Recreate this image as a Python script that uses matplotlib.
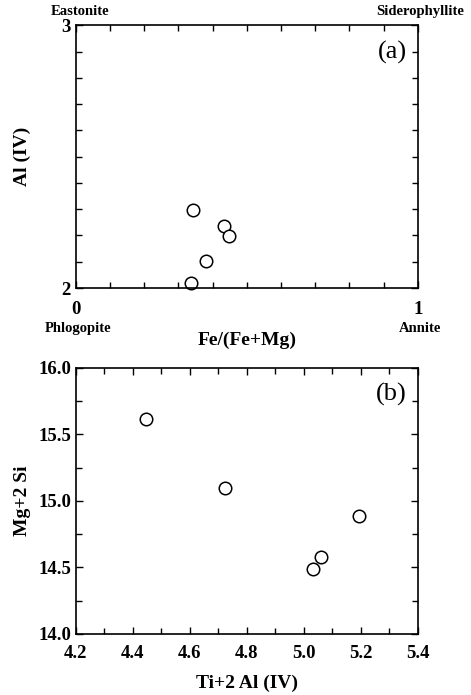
import matplotlib
matplotlib.use("Agg")
import matplotlib.pyplot as plt
from matplotlib.ticker import MultipleLocator

plt.rcParams['font.family'] = ['Liberation Serif', 'DejaVu Serif']

# panel (a)
fe_ratio = [0.344, 0.432, 0.449, 0.382, 0.337]
al_iv = [2.297, 2.235, 2.197, 2.101, 2.018]

# panel (b)
ti_al = [4.448, 4.725, 5.034, 5.062, 5.192]
mg_si = [15.615, 15.10, 14.486, 14.578, 14.886]

fig = plt.figure(figsize=(4.71, 6.95), dpi=100)

#------------------------- (a) -------------------------
ax1 = fig.add_axes([0.161, 0.5856, 0.726, 0.378])
ax1.plot(fe_ratio, al_iv, 'o', mfc='white', mec='black', ms=9, mew=1.1, clip_on=False)
ax1.set_xlim(0, 1)
ax1.set_ylim(2, 3)
ax1.set_xticks([0, 1])
ax1.set_yticks([2, 3])
ax1.xaxis.set_minor_locator(MultipleLocator(0.1))
ax1.yaxis.set_minor_locator(MultipleLocator(0.1))
ax1.set_xticklabels(['0', '1'], fontweight='bold', fontsize=13.5)
ax1.set_yticklabels(['2', '3'], fontweight='bold', fontsize=13.5)
ax1.tick_params(axis='x', which='major', pad=9)
ax1.set_ylabel('Al (IV)', fontweight='bold', fontsize=14, labelpad=22)
ax1.set_xlabel('Fe/(Fe+Mg)', fontweight='bold', fontsize=14, labelpad=10)
ax1.text(0.968, 0.897, '(a)', transform=ax1.transAxes, ha='right', va='center', fontsize=19)

fig.text(0.170, 0.983, 'Eastonite', ha='center', va='center', fontweight='bold', fontsize=10.5)
fig.text(0.892, 0.983, 'Siderophyllite', ha='center', va='center', fontweight='bold', fontsize=10.5)
fig.text(0.166, 0.527, 'Phlogopite', ha='center', va='center', fontweight='bold', fontsize=10.5)
fig.text(0.892, 0.527, 'Annite', ha='center', va='center', fontweight='bold', fontsize=10.5)

#------------------------- (b) -------------------------
ax2 = fig.add_axes([0.161, 0.0878, 0.726, 0.383])
ax2.plot(ti_al, mg_si, 'o', mfc='white', mec='black', ms=9, mew=1.1)
ax2.set_xlim(4.2, 5.4)
ax2.set_ylim(14.0, 16.0)
ax2.xaxis.set_major_locator(MultipleLocator(0.2))
ax2.xaxis.set_minor_locator(MultipleLocator(0.1))
ax2.yaxis.set_major_locator(MultipleLocator(0.5))
ax2.yaxis.set_minor_locator(MultipleLocator(0.25))
ax2.xaxis.set_major_formatter('{x:.1f}')
ax2.yaxis.set_major_formatter('{x:.1f}')
for lab in ax2.get_xticklabels() + ax2.get_yticklabels():
    lab.set_fontweight('bold')
    lab.set_fontsize(13.5)
ax2.tick_params(axis='x', which='major', pad=8)
ax2.set_ylabel('Mg+2 Si', fontweight='bold', fontsize=14, labelpad=5)
ax2.set_xlabel('Ti+2 Al (IV)', fontweight='bold', fontsize=14, labelpad=9)
ax2.text(0.968, 0.898, '(b)', transform=ax2.transAxes, ha='right', va='center', fontsize=19)

for ax in (ax1, ax2):
    ax.tick_params(which='both', direction='in', top=True, right=True, width=1)
    ax.tick_params(which='major', length=5)
    ax.tick_params(which='minor', length=4)
    for s in ax.spines.values():
        s.set_linewidth(1.2)

fig.savefig('out.png', dpi=100)
